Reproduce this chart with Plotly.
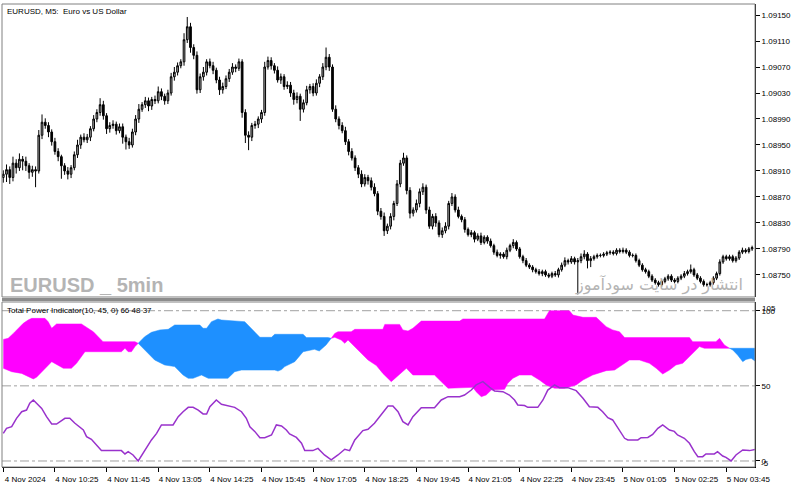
import plotly.graph_objects as go

# ---------------- data ----------------
BASE = 1.08700          # price base; candle values are in points (1e-5) above it
FIRST_OPEN = 200
close_pts = [
    205, 212, 200, 222, 215, 228, 225, 218, 208, 212,
    210, 265, 285, 280, 270, 255, 240, 232, 218, 210,
    205, 215, 235, 250, 262, 258, 262, 275, 290, 300,
    312, 295, 275, 280, 282, 272, 278, 262, 255, 250,
    270, 290, 305, 312, 318, 310, 320, 318, 332, 325,
    318, 330, 355, 362, 372, 378, 412, 432, 400, 388,
    335, 355, 362, 378, 372, 365, 350, 335, 340, 352,
    362, 370, 368, 378, 300, 265, 262, 280, 282, 290,
    300, 370, 380, 372, 365, 350, 355, 340, 342, 330,
    320, 325, 305, 315, 335, 340, 330, 345, 355, 370,
    385, 370, 305, 290, 280, 272, 255, 240, 230, 215,
    205, 190, 200, 195, 185, 175, 148, 140, 118, 125,
    140, 160, 190, 222, 230, 180, 145, 150, 160, 178,
    185, 150, 125, 140, 130, 112, 118, 125, 160, 170,
    150, 140, 135, 120, 112, 115, 105, 110, 100, 108,
    102, 95, 85, 80, 82, 78, 88, 95, 100, 90,
    78, 72, 65, 62, 58, 55, 52, 55, 50, 48,
    52, 50, 58, 65, 72, 70, 75, 70, 72, 78,
    82, 72, 75, 78, 80, 80, 82, 84, 85, 83,
    88, 86, 88, 85, 80, 80, 72, 65, 58, 55,
    48, 42, 38, 35, 40, 44, 48, 42, 40, 45,
    48, 52, 55, 58, 50, 45, 40, 35, 35, 38,
    45, 52, 70, 78, 75, 78, 72, 76, 85, 88, 86, 90, 92,
]
up_wick = [
    6, 8, 5, 10, 6, 9, 5, 7, 4, 6,
    5, 8, 12, 6, 5, 4, 6, 5, 3, 4,
    6, 4, 5, 8, 4, 6, 5, 4, 6, 5,
    10, 6, 4, 5, 6, 4, 5, 5, 4, 6,
    5, 6, 8, 4, 6, 5, 4, 6, 8, 5,
    4, 5, 6, 8, 5, 4, 10, 15, 6, 5,
    6, 5, 8, 4, 5, 6, 4, 5, 6, 5,
    5, 6, 4, 5, 4, 5, 6, 4, 5, 4,
    4, 8, 6, 5, 4, 6, 5, 4, 6, 5,
    5, 6, 4, 5, 6, 4, 5, 6, 4, 6,
    15, 5, 4, 6, 4, 5, 6, 4, 5, 4,
    4, 6, 5, 4, 5, 6, 4, 5, 6, 4,
    5, 4, 6, 5, 8, 4, 5, 4, 6, 5,
    6, 4, 5, 4, 5, 4, 5, 6, 4, 6,
    4, 5, 3, 4, 3, 4, 3, 4, 5, 3,
    3, 4, 3, 4, 3, 3, 4, 3, 5, 3,
    3, 3, 4, 3, 3, 3, 4, 3, 3, 3,
    3, 4, 3, 4, 5, 3, 4, 3, 4, 5,
    6, 3, 4, 3, 3, 3, 3, 3, 3, 3,
    3, 3, 4, 3, 3, 3, 3, 3, 3, 3,
    3, 3, 3, 3, 3, 3, 3, 3, 3, 3,
    3, 4, 3, 8, 3, 3, 3, 3, 3, 3,
    3, 3, 4, 3, 3, 3, 3, 3, 3, 4, 3, 3, 3,
]
dn_wick = [
    8, 12, 10, 6, 9, 5, 14, 8, 10, 7,
    25, 4, 6, 5, 8, 6, 5, 7, 20, 6,
    8, 6, 4, 5, 6, 4, 5, 6, 4, 5,
    5, 6, 8, 6, 5, 6, 4, 10, 12, 6,
    4, 5, 6, 4, 5, 8, 6, 5, 4, 6,
    6, 5, 4, 6, 5, 4, 6, 5, 8, 6,
    6, 5, 6, 5, 4, 6, 5, 8, 6, 4,
    5, 4, 6, 4, 8, 12, 20, 6, 5, 6,
    6, 5, 4, 6, 5, 4, 6, 5, 4, 6,
    8, 6, 18, 5, 4, 6, 5, 4, 6, 5,
    5, 6, 4, 5, 6, 4, 5, 6, 4, 5,
    6, 5, 4, 6, 5, 4, 6, 5, 8, 5,
    5, 6, 4, 5, 4, 6, 8, 5, 4, 6,
    5, 6, 4, 5, 6, 4, 5, 4, 5, 4,
    4, 3, 4, 5, 3, 4, 5, 3, 4, 3,
    4, 3, 4, 3, 5, 3, 4, 3, 4, 3,
    3, 4, 3, 3, 4, 3, 3, 4, 3, 3,
    3, 3, 4, 3, 3, 4, 3, 4, 50, 4,
    4, 12, 10, 3, 3, 3, 3, 3, 3, 3,
    3, 3, 3, 3, 3, 3, 3, 3, 3, 3,
    3, 3, 3, 3, 3, 3, 3, 3, 3, 3,
    3, 3, 3, 3, 3, 3, 3, 3, 3, 3,
    3, 3, 3, 3, 3, 3, 3, 3, 3, 3, 3, 3, 3,
]

price_ticks = [1.08750, 1.08790, 1.08830, 1.08870, 1.08910, 1.08950,
               1.08990, 1.09030, 1.09070, 1.09110, 1.09150]
time_tick_bars = [0, 16, 32, 48, 64, 80, 96, 112, 128, 144, 160, 176, 192, 208, 224]
time_tick_labels = ["4 Nov 2024", "4 Nov 10:25", "4 Nov 11:45", "4 Nov 13:05",
                    "4 Nov 14:25", "4 Nov 15:45", "4 Nov 17:05", "4 Nov 18:25",
                    "4 Nov 19:45", "4 Nov 21:05", "4 Nov 22:25", "4 Nov 23:45",
                    "5 Nov 01:05", "5 Nov 02:25", "5 Nov 03:45"]

# Total Power indicator (bar position, value)
bull_x = [0, 1.5, 3.1, 4.6, 6.2, 7.7, 8.8, 12.9, 13.9, 15.0,
          16.5, 24.2, 26.3, 27.9, 29.4, 30.9, 40.8, 41.8, 43.8, 46.9,
          50.0, 53.1, 55.7, 57.3, 58.8, 61.4, 63.5, 69.6, 71.7, 73.8,
          84.1, 85.1, 86.2, 87.2, 90.3, 92.9, 96.4, 97.9, 100.0, 101.6,
          102.7, 103.7, 107.8, 108.9, 117.6, 118.2, 122.8, 123.8, 125.4, 126.9,
          129.5, 141.4, 142.4, 167.7, 169.2, 175.4, 176.5, 179.6, 183.7, 186.8,
          188.8, 190.9, 192.5, 212.6, 213.6, 220.8, 221.9, 223.4, 225.0, 226.0,
          227.5, 229.1, 230.1, 231.7, 233.2]
bull_v = [80.9, 81.6, 84.9, 88.3, 91.6, 93.8, 94.9, 94.9, 92.7, 88.3,
          91.2, 91.2, 88.3, 86.0, 82.7, 79.4, 79.4, 78.3, 73.9, 67.2,
          63.9, 62.8, 57.2, 55.0, 55.0, 57.2, 55.0, 55.0, 59.4, 60.5,
          60.5, 59.8, 60.8, 62.8, 66.1, 72.7, 74.3, 73.2, 77.2, 81.6,
          84.9, 86.0, 86.0, 87.6, 87.6, 90.9, 90.9, 87.2, 86.5, 88.3,
          93.1, 93.1, 94.5, 94.5, 100.0, 100.0, 97.1, 95.6, 95.6, 89.4,
          87.2, 86.0, 82.1, 82.1, 79.4, 79.4, 81.6, 77.2, 75.0, 73.9,
          70.5, 66.1, 67.6, 68.3, 66.1]
bear_x = [0, 2.6, 5.7, 7.7, 9.3, 10.3, 11.9, 13.4, 15.0, 18.6,
          21.1, 22.7, 24.2, 25.3, 36.6, 37.7, 38.7, 39.7, 40.8, 41.8,
          43.8, 45.9, 48.5, 51.1, 53.1, 60.9, 61.9, 63.0, 64.5, 66.5,
          67.6, 74.8, 76.9, 79.5, 83.1, 84.1, 92.9, 93.9, 100.6, 101.6,
          102.7, 104.7, 105.8, 106.8, 110.9, 113.0, 115.6, 117.6, 120.2, 122.8,
          124.9, 126.9, 133.6, 136.2, 137.8, 145.5, 146.5, 148.1, 149.6, 151.2,
          155.3, 156.3, 157.9, 159.9, 163.6, 166.1, 168.2, 170.8, 173.9, 177.5,
          179.6, 182.6, 186.8, 189.4, 192.5, 194.0, 197.1, 200.2, 202.3, 204.3,
          206.4, 208.4, 210.5, 212.1, 213.6, 215.7, 217.2, 225.0, 233.2]
bear_v = [61.7, 59.4, 58.3, 56.1, 54.6, 55.7, 59.4, 62.8, 66.1, 61.7,
          61.7, 65.0, 69.4, 72.7, 72.7, 75.0, 72.7, 72.7, 76.1, 78.3,
          82.7, 85.6, 87.2, 87.6, 90.5, 90.5, 88.3, 88.3, 92.7, 94.5,
          93.8, 92.7, 88.3, 82.3, 82.3, 84.3, 84.3, 82.1, 82.1, 81.6,
          82.3, 80.5, 78.3, 80.5, 71.6, 67.2, 63.5, 58.3, 52.8, 57.9,
          61.7, 57.2, 57.2, 51.7, 48.4, 49.0, 46.1, 42.8, 43.9, 47.2,
          47.7, 51.7, 55.0, 57.2, 57.2, 53.9, 50.6, 48.4, 48.4, 50.6,
          53.9, 57.2, 60.1, 60.5, 65.0, 67.2, 67.2, 65.0, 61.7, 57.9,
          60.5, 63.9, 65.0, 68.3, 71.6, 76.1, 75.0, 75.0, 75.0]
cross_bars = [41.8, 101.6, 225.0]
total_x = [0, 1.0, 2.6, 4.1, 5.7, 7.2, 8.2, 9.3, 10.3, 11.9,
           13.4, 15.0, 16.5, 17.5, 19.1, 20.6, 22.2, 24.8, 25.8, 27.3,
           28.9, 30.4, 36.6, 37.7, 38.7, 40.2, 41.8, 43.8, 45.9, 47.5,
           49.0, 52.6, 54.2, 55.7, 57.3, 58.8, 60.4, 61.9, 63.0, 64.0,
           66.0, 67.6, 69.6, 71.7, 73.8, 75.3, 76.4, 77.9, 79.5, 81.0,
           83.1, 84.6, 86.2, 87.7, 88.7, 90.8, 92.4, 93.4, 95.9, 97.5,
           99.5, 101.6, 103.7, 105.8, 107.3, 108.9, 111.4, 113.0, 115.0, 117.1,
           119.2, 120.7, 122.3, 123.8, 125.4, 126.9, 129.5, 133.6, 135.7, 137.8,
           141.4, 142.9, 145.0, 146.5, 148.6, 150.7, 152.2, 154.8, 156.8, 158.4,
           159.4, 161.5, 162.5, 165.6, 167.2, 168.7, 170.8, 172.3, 174.9, 177.5,
           179.6, 181.6, 184.2, 185.7, 187.3, 188.8, 190.4, 192.5, 193.5, 196.6,
           197.6, 199.7, 201.2, 202.8, 204.3, 206.4, 207.9, 208.9, 211.0, 212.6,
           214.1, 215.2, 216.7, 217.7, 220.3, 221.3, 222.9, 223.9, 225.5, 227.0,
           229.1, 231.2, 233.2]
total_v = [18.4, 21.7, 22.8, 28.4, 32.8, 33.9, 38.4, 40.6, 38.4, 35.0,
           29.5, 24.6, 24.6, 26.2, 28.4, 28.4, 25.1, 20.6, 16.2, 14.4,
           10.6, 6.9, 6.9, 4.7, 6.2, 4.0, 0.0, 7.3, 14.0, 18.4,
           24.0, 24.0, 29.5, 32.8, 35.7, 35.7, 33.9, 31.3, 31.3, 36.1,
           40.6, 37.7, 36.6, 35.7, 32.8, 28.4, 22.8, 19.7, 15.5, 15.5,
           17.3, 24.0, 23.3, 20.6, 18.0, 15.7, 11.8, 6.9, 6.9, 8.4,
           4.0, 0.7, 4.0, 7.8, 6.9, 14.0, 20.2, 21.1, 25.1, 30.6,
           36.6, 36.6, 32.8, 26.2, 24.0, 29.5, 35.5, 35.5, 40.6, 42.8,
           42.8, 43.9, 47.2, 50.6, 52.8, 49.0, 46.6, 46.1, 43.9, 40.6,
           37.3, 36.9, 35.7, 35.7, 40.6, 47.2, 50.6, 48.8, 48.8, 46.8,
           41.7, 36.1, 35.7, 32.8, 28.8, 27.3, 21.7, 15.1, 14.0, 14.0,
           15.5, 15.7, 17.7, 21.7, 24.0, 20.6, 19.7, 17.3, 15.1, 11.8,
           6.2, 2.9, 2.9, 4.7, 4.7, 6.2, 3.3, 2.4, 0.0, 4.0,
           7.3, 6.9, 7.8]
levels = [100, 50, 0]

# ---------------- build ----------------
n = len(close_pts)
bars = list(range(n))
open_pts = [FIRST_OPEN] + close_pts[:-1]
opens = [BASE + p * 1e-5 for p in open_pts]
closes = [BASE + p * 1e-5 for p in close_pts]
highs = [BASE + (max(o, c) + u) * 1e-5 for o, c, u in zip(open_pts, close_pts, up_wick)]
lows = [BASE + (min(o, c) - d) * 1e-5 for o, c, d in zip(open_pts, close_pts, dn_wick)]

FONT = "Liberation Sans, Arial, sans-serif"
MAGENTA = "#FF00FF"
BLUE = "#1E90FF"

fig = go.Figure()
fig.add_trace(go.Candlestick(
    x=bars, open=opens, high=highs, low=lows, close=closes,
    xaxis="x", yaxis="y",
    increasing=dict(line=dict(color="#000000", width=1), fillcolor="#a8a8a8"),
    decreasing=dict(line=dict(color="#000000", width=1), fillcolor="#000000"),
    whiskerwidth=0, showlegend=False, hoverinfo="skip"))

bounds = [bull_x[0]] + cross_bars + [bull_x[-1]]
seg_colors = [MAGENTA, BLUE, MAGENTA, BLUE]
for k in range(len(bounds) - 1):
    a, b = bounds[k], bounds[k + 1]
    col = seg_colors[k]
    bx = [x for x in bear_x if a <= x <= b]
    bv = [v for x, v in zip(bear_x, bear_v) if a <= x <= b]
    ux = [x for x in bull_x if a <= x <= b]
    uv = [v for x, v in zip(bull_x, bull_v) if a <= x <= b]
    fig.add_trace(go.Scatter(x=bx, y=bv, xaxis="x", yaxis="y2", mode="lines",
                             line=dict(color=col, width=0.5), showlegend=False,
                             hoverinfo="skip"))
    fig.add_trace(go.Scatter(x=ux, y=uv, xaxis="x", yaxis="y2", mode="lines",
                             line=dict(color=col, width=0.5), fill="tonexty",
                             fillcolor=col, showlegend=False, hoverinfo="skip"))

fig.add_trace(go.Scatter(x=total_x, y=total_v, xaxis="x", yaxis="y2", mode="lines",
                         line=dict(color="#9932CC", width=1.5), showlegend=False,
                         hoverinfo="skip"))

TOP_DOM = [0.3672, 1.0]
BOT_DOM = [0.0, 0.3564]

shapes = []
for lv in levels:
    shapes.append(dict(type="line", xref="paper", x0=0, x1=1, yref="y2", y0=lv, y1=lv,
                       line=dict(color="#a0a0a0", width=1, dash="dashdot"), layer="below"))
shapes.append(dict(type="rect", xref="paper", x0=0, x1=1, yref="paper",
                   y0=TOP_DOM[0], y1=TOP_DOM[1], line=dict(color="#808080", width=1)))
shapes.append(dict(type="rect", xref="paper", x0=0, x1=1, yref="paper",
                   y0=BOT_DOM[0], y1=BOT_DOM[1], line=dict(color="#808080", width=1)))
shapes.append(dict(type="rect", xref="paper", x0=0, x1=1, yref="paper",
                   y0=0.3585, y1=0.3650, line=dict(width=0), fillcolor="#8c8c8c"))

annotations = [
    dict(text="EURUSD, M5:\u00a0 Euro vs US Dollar", xref="paper", yref="paper",
         x=0, y=1, xanchor="left", yanchor="top", xshift=3, yshift=-1,
         showarrow=False, font=dict(family=FONT, size=8, color="#000000")),
    dict(text="Total Power Indicator(10, 45, 0) 66 48 37", xref="paper", yref="paper",
         x=0, y=BOT_DOM[1], xanchor="left", yanchor="top", xshift=3, yshift=-2,
         showarrow=False, font=dict(family=FONT, size=8, color="#000000")),
    dict(text="<b>EURUSD _ 5min</b>", xref="paper", yref="paper",
         x=0, y=0.393, xanchor="left", yanchor="middle", xshift=6,
         showarrow=False,
         font=dict(family="Liberation Sans, Arial, sans-serif",
                   size=20, color="#b4b4b4")),
    dict(text="انتشار در سایت سودآموز", xref="paper", yref="paper",
         x=0.9867, y=0.393, xanchor="right", yanchor="middle",
         showarrow=False, font=dict(family="DejaVu Sans, sans-serif", size=16,
                                    color="#b4b4b4")),
    dict(text="105", xref="paper", yref="y2", x=1, y=100, xanchor="left",
         yanchor="middle", xshift=5, yshift=2, showarrow=False,
         font=dict(family=FONT, size=8, color="#000000")),
    dict(text="-5", xref="paper", yref="y2", x=1, y=0, xanchor="left",
         yanchor="middle", xshift=4, yshift=-3, showarrow=False,
         font=dict(family=FONT, size=8, color="#000000")),
]

fig.update_layout(
    width=800, height=485,
    margin=dict(l=2, r=45, t=4, b=18),
    paper_bgcolor="#ffffff", plot_bgcolor="#ffffff",
    showlegend=False, boxgap=0.25,
    shapes=shapes, annotations=annotations,
    xaxis=dict(domain=[0, 1], anchor="y2", range=[-0.4, 232.9],
               tickvals=time_tick_bars, ticktext=time_tick_labels,
               ticks="outside", ticklen=4, tickcolor="#000000",
               ticklabelshift=22,
               showline=True, linecolor="#000000", linewidth=1,
               showgrid=False, zeroline=False,
               rangeslider=dict(visible=False),
               tickfont=dict(family=FONT, size=8, color="#000000")),
    yaxis=dict(domain=TOP_DOM, anchor="x", side="right",
               range=[1.08716, 1.09167],
               tickvals=price_ticks, ticktext=[f"{p:.5f}" for p in price_ticks],
               ticks="outside", ticklen=4, tickcolor="#000000",
               showline=True, linecolor="#000000", linewidth=1,
               showgrid=False, zeroline=False,
               tickfont=dict(family=FONT, size=8, color="#000000")),
    yaxis2=dict(domain=BOT_DOM, anchor="x", side="right",
                range=[-4, 105.8],
                tickvals=levels, ticktext=[str(v) for v in levels],
                ticks="outside", ticklen=4, tickcolor="#000000",
                showline=True, linecolor="#000000", linewidth=1,
                showgrid=False, zeroline=False,
                tickfont=dict(family=FONT, size=8, color="#000000")),
)

fig.write_html("out.html")
